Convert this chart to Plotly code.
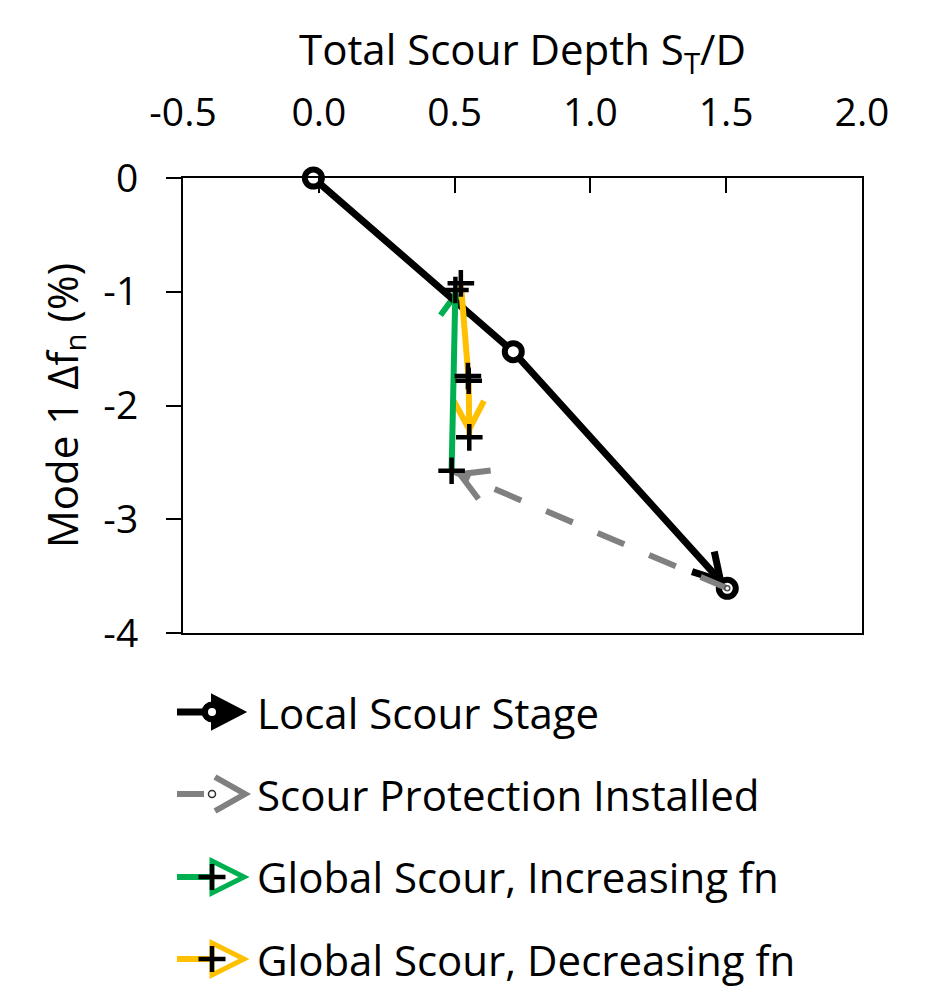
import math
import plotly.graph_objects as go

# ---------------- data ----------------
x_title = "Total Scour Depth S<sub>T</sub>/D"
y_title = "Mode 1 Δf<sub>n</sub> (%)"
x_tickvals = [-0.5, 0.0, 0.5, 1.0, 1.5, 2.0]
x_ticktext = ["-0.5", "0.0", "0.5", "1.0", "1.5", "2.0"]
y_tickvals = [0, -1, -2, -3, -4]
y_ticktext = ["0", "-1", "-2", "-3", "-4"]

local_x = [-0.02, 0.716, 1.504]
local_y = [0.0, -1.527, -3.607]
protect_x = [1.504, 0.489]
protect_y = [-3.607, -2.573]
inc_x = [0.489, 0.503]
inc_y = [-2.573, -0.985]
dec_x = [0.523, 0.549, 0.552, 0.554]
dec_y = [-0.926, -1.741, -1.782, -2.28]

series_names = ["Local Scour Stage", "Scour Protection Installed",
                "Global Scour, Increasing fn", "Global Scour, Decreasing fn"]
BLACK, GRAY, GREEN, YELLOW = "#000000", "#808080", "#00B050", "#FFC000"

# ---------------- layout constants ----------------
W, H = 949, 987
L, R, T, B = 183, 862, 178, 633
X_RANGE = [-0.5, 2.0]
Y_RANGE = [-4.0, 0.0]
SX = (R - L) / (X_RANGE[1] - X_RANGE[0])
SY = (B - T) / (Y_RANGE[1] - Y_RANGE[0])
FONT = "Open Sans"
FS_TICK = 39
FS_TEXT = 42


def px2paper_x(px):
    return (px - L) / (R - L)


def py2paper_y(py):
    return (B - py) / (B - T)


def chevron(xs, ys, standoff, arm, half_deg, color, width):
    """Open arrow head at the last point of a series, pointing along the last segment."""
    bx = (xs[-2] - xs[-1]) * SX
    by = (ys[-2] - ys[-1]) * SY
    n = math.hypot(bx, by)
    bx, by = bx / n, by / n
    tx, ty = bx * standoff, by * standoff
    pts = []
    for s in (1, -1):
        a = math.radians(half_deg) * s
        rx = bx * math.cos(a) - by * math.sin(a)
        ry = bx * math.sin(a) + by * math.cos(a)
        pts.append((tx + rx * arm, ty + ry * arm))
    path = (f"M{pts[0][0]:.2f},{pts[0][1]:.2f} L{tx:.2f},{ty:.2f} "
            f"L{pts[1][0]:.2f},{pts[1][1]:.2f}")
    return dict(type="path", xref="x", yref="y", xsizemode="pixel", ysizemode="pixel",
                xanchor=xs[-1], yanchor=ys[-1], path=path,
                line=dict(color=color, width=width), fillcolor="rgba(0,0,0,0)",
                layer="below")


fig = go.Figure()

fig.add_trace(go.Scatter(
    x=local_x, y=local_y, mode="lines+markers", name=series_names[0],
    line=dict(color=BLACK, width=7),
    marker=dict(symbol="circle", size=17, color="white", line=dict(color=BLACK, width=6)),
    cliponaxis=False, showlegend=False))

fig.add_trace(go.Scatter(
    x=protect_x, y=protect_y, mode="lines+markers", name=series_names[1],
    line=dict(color=GRAY, width=6, dash="29px,27px"),
    marker=dict(symbol="circle", size=5, color="white", line=dict(color="#505050", width=1.5)),
    cliponaxis=False, showlegend=False))

fig.add_trace(go.Scatter(
    x=inc_x, y=inc_y, mode="lines", name=series_names[2],
    line=dict(color=GREEN, width=6), showlegend=False))

fig.add_trace(go.Scatter(
    x=dec_x, y=dec_y, mode="lines", name=series_names[3],
    line=dict(color=YELLOW, width=6), showlegend=False))

for xs, ys, nm in ((inc_x, inc_y, series_names[2]), (dec_x, dec_y, series_names[3])):
    fig.add_trace(go.Scatter(
        x=xs, y=ys, mode="markers", name=nm,
        marker=dict(symbol="cross-thin", size=19, line=dict(color=BLACK, width=4.5)),
        cliponaxis=False, showlegend=False))

shapes = [
    chevron(local_x, local_y, 10, 30, 30, BLACK, 7),
    chevron(protect_x, protect_y, 9, 31, 30, GRAY, 6),
    chevron(inc_x, inc_y, 5, 25, 35, GREEN, 6),
    chevron(dec_x, dec_y, 8, 32, 28, YELLOW, 6),
]

# ---------------- legend (drawn below the plot) ----------------
LEG_Y = [712, 794, 877, 959]
MARK_X = 212
TEXT_X = 255
annotations = []


def pshape(row_y, **kw):
    d = dict(xref="paper", yref="paper", xsizemode="pixel", ysizemode="pixel",
             xanchor=px2paper_x(MARK_X), yanchor=py2paper_y(row_y), layer="above")
    d.update(kw)
    return d


def plus(row_y):
    return [pshape(row_y, type="line", x0=-13.5, x1=13.5, y0=0, y1=0,
                   line=dict(color=BLACK, width=4.5)),
            pshape(row_y, type="line", x0=0, x1=0, y0=-13, y1=13,
                   line=dict(color=BLACK, width=4.5))]


# Local scour
ry = LEG_Y[0]
shapes += [
    pshape(ry, type="line", x0=-35, x1=15, y0=0, y1=0, line=dict(color=BLACK, width=7)),
    pshape(ry, type="path", path="M0,17 L33,0 L0,-17 Z", fillcolor=BLACK,
           line=dict(color=BLACK, width=2)),
    pshape(ry, type="circle", x0=-10, x1=10, y0=-10, y1=10, fillcolor=BLACK,
           line=dict(color=BLACK, width=1)),
    pshape(ry, type="circle", x0=-4, x1=4, y0=-4, y1=4, fillcolor="white",
           line=dict(color="white", width=0)),
]
# Scour protection
ry = LEG_Y[1]
shapes += [
    pshape(ry, type="line", x0=-35, x1=-8, y0=0, y1=0, line=dict(color=GRAY, width=6)),
    pshape(ry, type="circle", x0=-3.5, x1=3.5, y0=-3.5, y1=3.5, fillcolor="white",
           line=dict(color="#303030", width=1.5)),
    pshape(ry, type="path", path="M3,17 L33,0 L3,-17", fillcolor="rgba(0,0,0,0)",
           line=dict(color=GRAY, width=6)),
]
# Global increasing / decreasing
for ry, col in ((LEG_Y[2], GREEN), (LEG_Y[3], YELLOW)):
    shapes += [
        pshape(ry, type="line", x0=-35, x1=0, y0=0, y1=0, line=dict(color=col, width=6)),
        pshape(ry, type="path", path="M0,16 L32,0 L0,-16 Z", fillcolor="rgba(0,0,0,0)",
               line=dict(color=col, width=5)),
    ]
    shapes += plus(ry)

for name, ry in zip(series_names, LEG_Y):
    annotations.append(dict(
        text=name, xref="paper", yref="paper", x=px2paper_x(TEXT_X), y=py2paper_y(ry),
        xanchor="left", yanchor="middle", showarrow=False,
        font=dict(family=FONT, size=FS_TEXT, color="black")))

tick_font = dict(family=FONT, size=FS_TICK, color="black")
title_font = dict(family=FONT, size=FS_TEXT, color="black")

fig.update_layout(
    width=W, height=H,
    template="none",
    paper_bgcolor="white", plot_bgcolor="white",
    margin=dict(l=L, r=W - R, t=T, b=H - B, autoexpand=False),
    showlegend=False,
    shapes=shapes,
    annotations=annotations,
    xaxis=dict(
        side="top", range=X_RANGE, tickvals=x_tickvals, ticktext=x_ticktext,
        ticks="inside", ticklen=15, tickwidth=2, tickcolor="black",
        showline=True, linecolor="black", linewidth=2, mirror=True,
        showgrid=False, zeroline=False, tickfont=tick_font, ticklabelstandoff=34,
        title=dict(text=x_title, font=title_font, standoff=6),
    ),
    yaxis=dict(
        range=Y_RANGE, tickvals=y_tickvals, ticktext=y_ticktext,
        ticks="outside", ticklen=15, tickwidth=2, tickcolor="black",
        showline=True, linecolor="black", linewidth=2, mirror=True,
        showgrid=False, zeroline=False, tickfont=tick_font, ticklabelstandoff=20,
        title=dict(text=y_title, font=title_font, standoff=12),
    ),
)

fig.write_html("out.html")
